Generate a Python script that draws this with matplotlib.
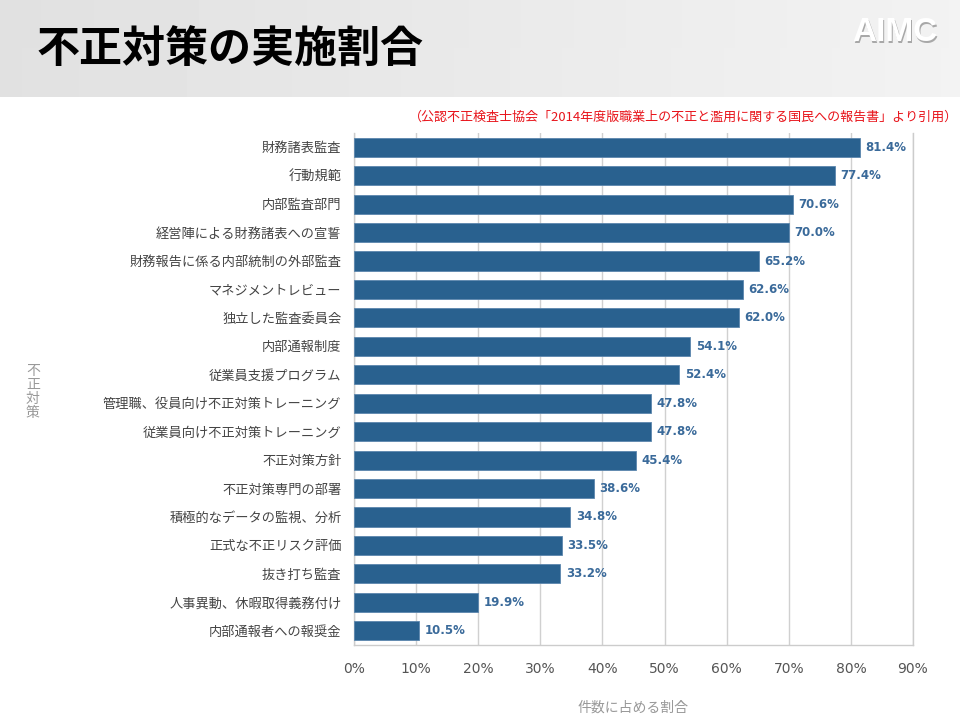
import numpy as np
import matplotlib.pyplot as plt

plt.rcParams['font.family'] = ['Noto Sans CJK JP', 'DejaVu Sans']

categories = ['財務諸表監査', '行動規範', '内部監査部門', '経営陣による財務諸表への宣誓',
              '財務報告に係る内部統制の外部監査', 'マネジメントレビュー', '独立した監査委員会',
              '内部通報制度', '従業員支援プログラム', '管理職、役員向け不正対策トレーニング',
              '従業員向け不正対策トレーニング', '不正対策方針', '不正対策専門の部署',
              '積極的なデータの監視、分析', '正式な不正リスク評価', '抜き打ち監査',
              '人事異動、休暇取得義務付け', '内部通報者への報奨金']
values = [81.4, 77.4, 70.6, 70.0, 65.2, 62.6, 62.0, 54.1, 52.4, 47.8,
          47.8, 45.4, 38.6, 34.8, 33.5, 33.2, 19.9, 10.5]
xticks = [0, 10, 20, 30, 40, 50, 60, 70, 80, 90]

bar_color = '#29618f'

fig = plt.figure(figsize=(9.6, 7.2), dpi=100)

# header band
hax = fig.add_axes([0, 1 - 97 / 720, 1, 97 / 720])
grad = np.linspace(0.88, 0.95, 256)
grad = np.vstack([grad, grad * 0.99 + 0.01])
hax.imshow(grad, aspect='auto', cmap='gray', vmin=0, vmax=1, extent=[0, 1, 0, 1])
hax.set_axis_off()
hax.text(0.038, 0.49, '不正対策の実施割合', fontsize=31, fontweight='bold',
         color='black', va='center', ha='left', transform=hax.transAxes)
hax.text(0.978, 0.64, 'AIMC', fontsize=24, fontweight='bold', color='#a8a8a8',
         va='center', ha='right', family='Liberation Sans', transform=hax.transAxes)
hax.text(0.976, 0.66, 'AIMC', fontsize=24, fontweight='bold', color='white',
         va='center', ha='right', family='Liberation Sans', transform=hax.transAxes)

fig.text(0.998, 1 - 117 / 720, '（公認不正検査士協会「2014年度版職業上の不正と濫用に関する国民への報告書」より引用）',
         fontsize=9.4, color='#e8141b', ha='right', va='center')

ax = fig.add_axes([354 / 960, 1 - 645 / 720, (913 - 354) / 960, (645 - 133) / 720])
y = np.arange(len(categories))
ax.barh(y, values, height=0.67, color=bar_color, edgecolor='#5b86ad', linewidth=0.6, zorder=3)
for yi, v in zip(y, values):
    ax.text(v + 0.9, yi, f'{v:.1f}%', va='center', ha='left', fontsize=8.5,
            fontweight='bold', color='#3a6a9a', family='DejaVu Sans')

ax.set_xlim(0, 90)
ax.set_ylim(len(categories) - 0.5, -0.5)
ax.set_xticks(xticks)
ax.set_xticklabels([f'{t}%' for t in xticks], fontsize=10, color='#555555', family='DejaVu Sans')
ax.set_yticks(y)
ax.set_yticklabels(categories, fontsize=9.5, color='#444444')
ax.tick_params(axis='both', length=0)
ax.tick_params(axis='x', pad=12)
ax.tick_params(axis='y', pad=9)
ax.grid(axis='x', color='#d0d0d0', linewidth=1, zorder=0)
ax.spines['top'].set_visible(False)
for s in ['left', 'bottom', 'right']:
    ax.spines[s].set_color('#cccccc')
    ax.spines[s].set_linewidth(1)

ax.set_xlabel('件数に占める割合', fontsize=10, color='#999999', labelpad=18)
fig.text(33 / 960, 1 - 392 / 720, '不\n正\n対\n策', fontsize=10, color='#999999',
         ha='center', va='center', linespacing=1.0)

fig.savefig('out.png', dpi=100)
